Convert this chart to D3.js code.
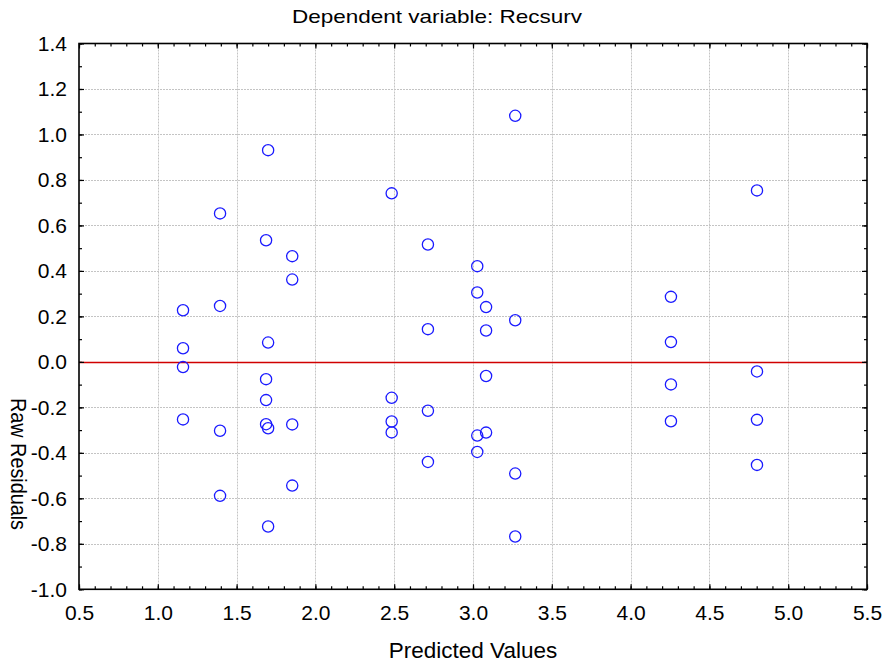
<!DOCTYPE html>
<html><head><meta charset="utf-8">
<script src="https://cdn.jsdelivr.net/npm/d3@7"></script>
<style>body{margin:0;background:#fff}svg{display:block}</style>
</head><body>
<script>
const xCols = [1.16, 1.395, 1.687, 1.70, 1.853, 2.484, 2.714, 3.027, 3.083, 3.268, 4.256, 4.802];
const residuals = [
  [0.227, 0.06, -0.023, -0.253],
  [0.653, 0.246, -0.303, -0.589],
  [0.535, -0.076, -0.168, -0.274],
  [0.931, 0.085, -0.292, -0.724],
  [0.465, 0.362, -0.275, -0.544],
  [0.741, -0.158, -0.262, -0.31],
  [0.516, 0.144, -0.215, -0.44],
  [0.421, 0.305, -0.324, -0.396],
  [0.241, 0.138, -0.062, -0.311],
  [1.082, 0.183, -0.491, -0.768],
  [0.286, 0.087, -0.099, -0.261],
  [0.754, -0.042, -0.255, -0.453]
];
const xTicks = [0.5,1.0,1.5,2.0,2.5,3.0,3.5,4.0,4.5,5.0,5.5];
const yTicks = [1.4,1.2,1.0,0.8,0.6,0.4,0.2,0.0,-0.2,-0.4,-0.6,-0.8,-1.0];
const title = "Dependent variable: Recsurv";
const xLabel = "Predicted Values";
const yLabel = "Raw Residuals";

const W = 886, H = 665;
const L = 79, R = 867, T = 43.5, B = 589.3;
const FONT = "'Liberation Sans', Arial, sans-serif";
const svg = d3.select("body").append("svg").attr("width", W).attr("height", H)
  .style("font-family", FONT);
const x = d3.scaleLinear().domain([0.5, 5.5]).range([L, R]);
const y = d3.scaleLinear().domain([-1.0, 1.4]).range([B, T]);

// grid
const grid = svg.append("g").attr("stroke", "#c4c4c4").attr("stroke-width", 1).attr("stroke-dasharray", "2,1");
grid.selectAll(".gx").data(xTicks.slice(1, -1)).join("line")
  .attr("x1", d => Math.round(x(d)) + 0.5).attr("x2", d => Math.round(x(d)) + 0.5)
  .attr("y1", T).attr("y2", B);
grid.selectAll(".gy").data(yTicks.slice(1, -1)).join("line")
  .attr("y1", d => Math.round(y(d)) + 0.5).attr("y2", d => Math.round(y(d)) + 0.5)
  .attr("x1", L).attr("x2", R);

// zero line
svg.append("line").attr("x1", L).attr("x2", R)
  .attr("y1", Math.round(y(0)) + 0.5).attr("y2", Math.round(y(0)) + 0.5)
  .attr("stroke", "#d00000").attr("stroke-width", 1.3);

// axes with inward ticks
const minorX = d3.range(0.5, 5.51, 0.1);
const minorY = d3.range(-1.0, 1.41, 0.1);
const fmt = d => d3.format(".1f")(d).replace("\u2212", "-");
const styleText = g => g.selectAll("text").attr("font-size", 21).attr("fill", "#000").attr("font-family", FONT);
svg.append("g").attr("transform", `translate(0,${B})`)
  .call(d3.axisBottom(x).tickValues(minorX).tickSize(-3).tickFormat(""))
  .call(g => g.select(".domain").remove());
svg.append("g").attr("transform", `translate(0,${B})`)
  .call(d3.axisBottom(x).tickValues(xTicks).tickSize(-5).tickPadding(16).tickFormat(fmt))
  .call(g => g.select(".domain").remove())
  .call(styleText);
svg.append("g").attr("transform", `translate(0,${T})`)
  .call(d3.axisTop(x).tickValues(minorX).tickSize(-3).tickFormat(""))
  .call(g => g.select(".domain").remove());
svg.append("g").attr("transform", `translate(0,${T})`)
  .call(d3.axisTop(x).tickValues(xTicks).tickSize(-5).tickFormat(""))
  .call(g => g.select(".domain").remove());
svg.append("g").attr("transform", `translate(${L},0)`)
  .call(d3.axisLeft(y).tickValues(minorY).tickSize(-3).tickFormat(""))
  .call(g => g.select(".domain").remove());
svg.append("g").attr("transform", `translate(${L},0)`)
  .call(d3.axisLeft(y).tickValues(yTicks).tickSize(-5).tickPadding(12).tickFormat(fmt))
  .call(g => g.select(".domain").remove())
  .call(styleText);
svg.append("g").attr("transform", `translate(${R},0)`)
  .call(d3.axisRight(y).tickValues(minorY).tickSize(-3).tickFormat(""))
  .call(g => g.select(".domain").remove());
svg.append("g").attr("transform", `translate(${R},0)`)
  .call(d3.axisRight(y).tickValues(yTicks).tickSize(-5).tickFormat(""))
  .call(g => g.select(".domain").remove());
svg.selectAll(".tick line").attr("stroke", "#000").attr("stroke-width", 1.2);

// frame
svg.append("rect").attr("x", L).attr("y", T).attr("width", R - L).attr("height", B - T)
  .attr("fill", "none").attr("stroke", "#000").attr("stroke-width", 1.6);

// points
const pts = [];
xCols.forEach((xv, i) => residuals[i].forEach(r => pts.push([xv, r])));
svg.append("g").selectAll("circle").data(pts).join("circle")
  .attr("cx", d => x(d[0])).attr("cy", d => y(d[1])).attr("r", 5.6)
  .attr("fill", "none").attr("stroke", "#1a1aff").attr("stroke-width", 1.3);

// labels
svg.append("text").attr("x", 292).attr("y", 22.5).attr("text-anchor", "start")
  .attr("font-size", 18.5).attr("textLength", 290).attr("lengthAdjust", "spacingAndGlyphs").text(title);
svg.append("text").attr("x", (L + R) / 2).attr("y", 658).attr("text-anchor", "middle")
  .attr("font-size", 22.5).text(xLabel);
svg.append("text").attr("transform", `translate(11,398) rotate(90)`).attr("text-anchor", "start")
  .attr("font-size", 22).attr("textLength", 132).attr("lengthAdjust", "spacingAndGlyphs").text(yLabel);
</script>
</body></html>
